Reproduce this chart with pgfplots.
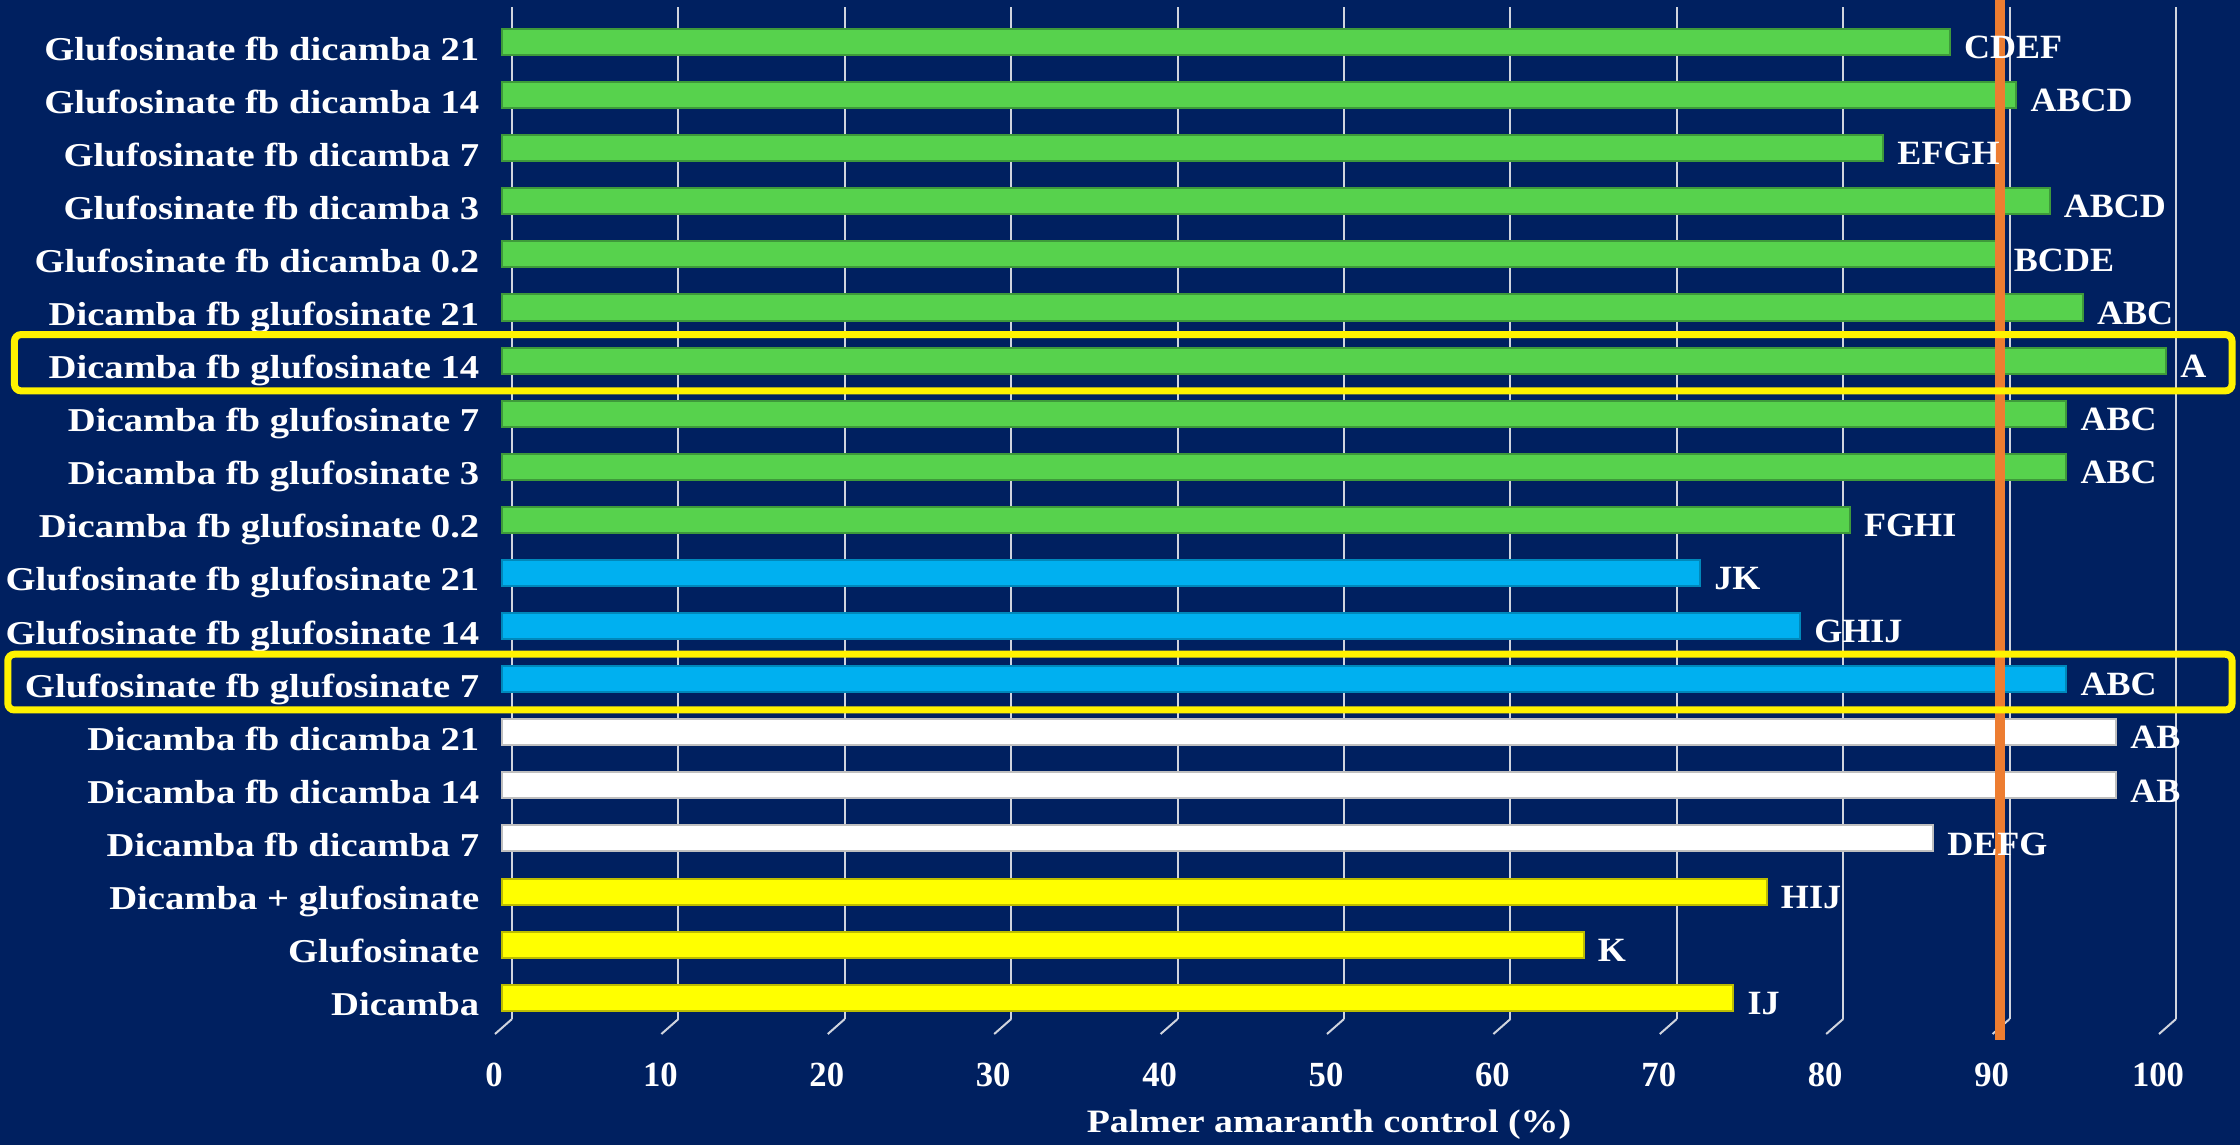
\documentclass[border=0pt]{standalone}
\usepackage{fontspec}
\setmainfont{Liberation Serif}[FakeStretch=1.06]
\newfontfamily\rowfont{Liberation Serif}[FakeStretch=1.16]
\newfontfamily\tickfont{Liberation Serif}[FakeStretch=0.98]
\usepackage{pgfplots}
\pgfplotsset{compat=1.18}

\definecolor{bg}{HTML}{002060}
\definecolor{gridc}{HTML}{D0D4DE}
\definecolor{barG}{HTML}{57D24D}
\definecolor{barGd}{HTML}{3E9A3A}
\definecolor{barB}{HTML}{00B0F0}
\definecolor{barBd}{HTML}{0088BB}
\definecolor{barW}{HTML}{FFFFFF}
\definecolor{barWd}{HTML}{BFBFBF}
\definecolor{barY}{HTML}{FFFF00}
\definecolor{barYd}{HTML}{BDBD00}
\definecolor{refline}{HTML}{ED7D31}

\begin{document}
\begin{tikzpicture}
\fill[bg] (0,0) rectangle (672pt,343.5pt);
\useasboundingbox (0,0) rectangle (672pt,343.5pt);
\begin{axis}[
    at={(150.6pt,37.8pt)}, anchor=south west,
    scale only axis, width=499.2pt, height=303.45pt,
    xmin=0, xmax=100, ymin=0.6, ymax=19.65,
    clip=false,
    bar width=7.8pt, bar shift=0pt,
    axis line style={draw=none},
    major tick length=0pt,
    xmajorgrids,
    major grid style={draw=gridc, line width=0.6pt, xshift=3pt},
    xtick={0,10,...,100},
    ytick={1,...,19},
    yticklabels={Dicamba, Glufosinate, Dicamba + glufosinate,
        Dicamba fb dicamba 7, Dicamba fb dicamba 14, Dicamba fb dicamba 21,
        Glufosinate fb glufosinate 7, Glufosinate fb glufosinate 14, Glufosinate fb glufosinate 21,
        Dicamba fb glufosinate 0.2, Dicamba fb glufosinate 3, Dicamba fb glufosinate 7,
        Dicamba fb glufosinate 14, Dicamba fb glufosinate 21,
        Glufosinate fb dicamba 0.2, Glufosinate fb dicamba 3, Glufosinate fb dicamba 7,
        Glufosinate fb dicamba 14, Glufosinate fb dicamba 21},
    /pgf/number format/assume math mode=true,
    xticklabel style={text=white, font=\tickfont\fontsize{10.6}{12}\selectfont\bfseries,
        anchor=base, yshift=-20.3pt, xshift=-2.4pt},
    yticklabel style={text=white, font=\rowfont\fontsize{10}{12}\selectfont\bfseries,
        anchor=base east, inner sep=0pt, xshift=-6.6pt, yshift=-5.4pt},
    xlabel={Palmer amaranth control (\%)},
    xlabel style={text=white, font=\rowfont\fontsize{9.8}{12}\selectfont\bfseries,
        at={(axis description cs:0.497,0)}, anchor=base, yshift=-34pt},
    every node near coord/.append style={text=white, anchor=base west, inner sep=0pt,
        xshift=4pt, yshift=-5pt, font=\fontsize{10.2}{12}\selectfont\bfseries},
]
% diagonal tick marks of the 3-D floor
\pgfplotsinvokeforeach{0,10,...,100}{
    \draw[gridc, line width=0.6pt] ([xshift=3pt]axis cs:#1,0.6) -- ++(-5.1pt,-4.5pt);
}
% yellow: single treatments
\addplot[xbar, fill=barY, draw=barYd, line width=0.6pt, nodes near coords, point meta=explicit symbolic]
    coordinates {(74,1)[IJ] (65,2)[K] (76,3)[HIJ]};
% white: dicamba fb dicamba
\addplot[xbar, fill=barW, draw=barWd, line width=0.6pt, nodes near coords, point meta=explicit symbolic]
    coordinates {(86,4)[DEFG] (97,5)[AB] (97,6)[AB]};
% blue: glufosinate fb glufosinate
\addplot[xbar, fill=barB, draw=barBd, line width=0.6pt, nodes near coords, point meta=explicit symbolic]
    coordinates {(94,7)[ABC] (78,8)[GHIJ] (72,9)[JK]};
% green: mixed sequences
\addplot[xbar, fill=barG, draw=barGd, line width=0.6pt, nodes near coords, point meta=explicit symbolic]
    coordinates {(81,10)[FGHI] (94,11)[ABC] (94,12)[ABC] (100,13)[A] (95,14)[ABC]
                 (90,15)[BCDE] (93,16)[ABCD] (83,17)[EFGH] (91,18)[ABCD] (87,19)[CDEF]};
% 90 % reference line
\addplot[refline, line width=3pt, mark=none] coordinates {(90,0.21) (90,19.79)};
% highlight boxes
\draw[yellow, line width=2.1pt, rounded corners=2pt]
    (axis cs:-29.3,12.43) rectangle (axis cs:103.97,13.49);
\draw[yellow, line width=2.1pt, rounded corners=2pt]
    (axis cs:-29.7,6.42) rectangle (axis cs:103.97,7.47);
\end{axis}
\end{tikzpicture}
\end{document}
